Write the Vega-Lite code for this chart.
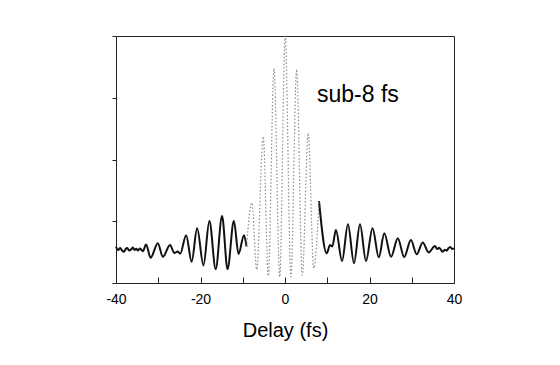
{
  "$schema": "https://vega.github.io/schema/vega-lite/v6.json",
  "width": 338,
  "height": 247,
  "autosize": {"type": "none"},
  "padding": {"left": 116, "top": 36, "right": 106, "bottom": 82},
  "background": "white",
  "config": {"view": {"stroke": "#222", "strokeWidth": 1}, "font": "Liberation Sans"},
  "data": {"values": [
    {"part": "L", "t": -40.0, "v": 1.18}, {"part": "L", "t": -39.5, "v": 1.07}, {"part": "L", "t": -39.0, "v": 1.13},
    {"part": "L", "t": -38.6, "v": 1.06}, {"part": "L", "t": -38.1, "v": 1.01}, {"part": "L", "t": -37.7, "v": 1.10},
    {"part": "L", "t": -37.3, "v": 1.13}, {"part": "L", "t": -36.9, "v": 1.05}, {"part": "L", "t": -36.4, "v": 1.09},
    {"part": "L", "t": -36.0, "v": 1.15}, {"part": "L", "t": -35.6, "v": 1.07}, {"part": "L", "t": -35.2, "v": 1.11},
    {"part": "L", "t": -34.8, "v": 1.05}, {"part": "L", "t": -34.4, "v": 1.12}, {"part": "L", "t": -34.0, "v": 1.08},
    {"part": "L", "t": -33.6, "v": 1.03}, {"part": "L", "t": -32.9, "v": 1.25}, {"part": "L", "t": -31.8, "v": 0.82},
    {"part": "L", "t": -30.1, "v": 1.29}, {"part": "L", "t": -28.9, "v": 0.85}, {"part": "L", "t": -27.2, "v": 1.23},
    {"part": "L", "t": -26.2, "v": 0.97}, {"part": "L", "t": -25.4, "v": 1.02}, {"part": "L", "t": -24.8, "v": 0.95},
    {"part": "L", "t": -23.4, "v": 1.55}, {"part": "L", "t": -22.1, "v": 0.69}, {"part": "L", "t": -20.8, "v": 1.77},
    {"part": "L", "t": -19.3, "v": 0.57}, {"part": "L", "t": -17.9, "v": 2.01}, {"part": "L", "t": -16.4, "v": 0.45},
    {"part": "L", "t": -14.9, "v": 2.17}, {"part": "L", "t": -13.6, "v": 0.45}, {"part": "L", "t": -12.1, "v": 2.01},
    {"part": "L", "t": -11.0, "v": 0.94}, {"part": "L", "t": -9.7, "v": 1.55}, {"part": "L", "t": -9.1, "v": 1.18},
    {"part": "C", "t": -9.1, "v": 1.18}, {"part": "C", "t": -7.85, "v": 2.60}, {"part": "C", "t": -6.7, "v": 0.44},
    {"part": "C", "t": -5.15, "v": 4.74}, {"part": "C", "t": -3.95, "v": 0.23}, {"part": "C", "t": -2.6, "v": 6.95},
    {"part": "C", "t": -1.25, "v": 0.20}, {"part": "C", "t": 0.05, "v": 8.0}, {"part": "C", "t": 1.4, "v": 0.20},
    {"part": "C", "t": 2.75, "v": 6.92}, {"part": "C", "t": 4.1, "v": 0.26}, {"part": "C", "t": 5.5, "v": 4.85},
    {"part": "C", "t": 6.8, "v": 0.48}, {"part": "C", "t": 8.05, "v": 2.65},
    {"part": "R", "t": 8.05, "v": 2.65}, {"part": "R", "t": 9.87, "v": 0.96}, {"part": "R", "t": 10.65, "v": 1.23},
    {"part": "R", "t": 11.2, "v": 1.18}, {"part": "R", "t": 12.05, "v": 1.72}, {"part": "R", "t": 13.5, "v": 0.71},
    {"part": "R", "t": 14.9, "v": 1.90}, {"part": "R", "t": 16.33, "v": 0.64}, {"part": "R", "t": 17.75, "v": 1.90},
    {"part": "R", "t": 19.17, "v": 0.71}, {"part": "R", "t": 20.72, "v": 1.77}, {"part": "R", "t": 22.2, "v": 0.83},
    {"part": "R", "t": 23.5, "v": 1.61}, {"part": "R", "t": 25.1, "v": 0.85}, {"part": "R", "t": 26.7, "v": 1.45},
    {"part": "R", "t": 28.2, "v": 0.84}, {"part": "R", "t": 29.8, "v": 1.39}, {"part": "R", "t": 31.17, "v": 0.93},
    {"part": "R", "t": 32.6, "v": 1.31}, {"part": "R", "t": 34.0, "v": 0.99}, {"part": "R", "t": 35.5, "v": 1.20},
    {"part": "R", "t": 36.0, "v": 1.10}, {"part": "R", "t": 36.5, "v": 1.14}, {"part": "R", "t": 37.3, "v": 1.01},
    {"part": "R", "t": 37.8, "v": 1.08}, {"part": "R", "t": 38.3, "v": 1.05}, {"part": "R", "t": 38.7, "v": 1.13},
    {"part": "R", "t": 39.1, "v": 1.17}, {"part": "R", "t": 39.6, "v": 1.10}, {"part": "R", "t": 40.0, "v": 1.12}
  ]},
  "layer": [
    {
      "transform": [{"filter": "datum.part !== 'C'"}],
      "mark": {"type": "line", "interpolate": "monotone", "color": "#111", "strokeWidth": 2},
      "encoding": {
        "x": {"field": "t", "type": "quantitative", "scale": {"domain": [-40, 40], "nice": false},
          "axis": {"values": [-40, -30, -20, -10, 0, 10, 20, 30, 40],
            "labelExpr": "datum.value % 20 === 0 ? '' + datum.value : ''",
            "labelFlush": false, "labelOverlap": false,
            "title": "Delay (fs)", "titleFontSize": 20, "titleFontWeight": "normal", "titleColor": "#000", "titlePadding": 14,
            "labelFontSize": 14, "labelColor": "#000", "labelPadding": 15,
            "tickSize": -6, "tickColor": "#222", "domain": false, "grid": false}},
        "y": {"field": "v", "type": "quantitative", "scale": {"domain": [0, 8], "nice": false},
          "axis": {"values": [0, 2, 4, 6, 8], "labels": false, "title": null, "tickSize": 4, "tickColor": "#222", "domain": false, "grid": false}},
        "detail": {"field": "part"}
      }
    },
    {
      "transform": [{"filter": "datum.part === 'C'"}],
      "mark": {"type": "line", "interpolate": "monotone", "color": "#8c8c8c", "strokeWidth": 1.2, "strokeDash": [1.5, 2]},
      "encoding": {
        "x": {"field": "t", "type": "quantitative"},
        "y": {"field": "v", "type": "quantitative"}
      }
    },
    {
      "data": {"values": [{"label": "sub-8 fs"}]},
      "mark": {"type": "text", "fontSize": 23, "align": "left", "baseline": "alphabetic", "color": "#000"},
      "encoding": {
        "x": {"datum": 7.57, "type": "quantitative"},
        "y": {"datum": 5.87, "type": "quantitative"},
        "text": {"field": "label"}
      }
    }
  ]
}
